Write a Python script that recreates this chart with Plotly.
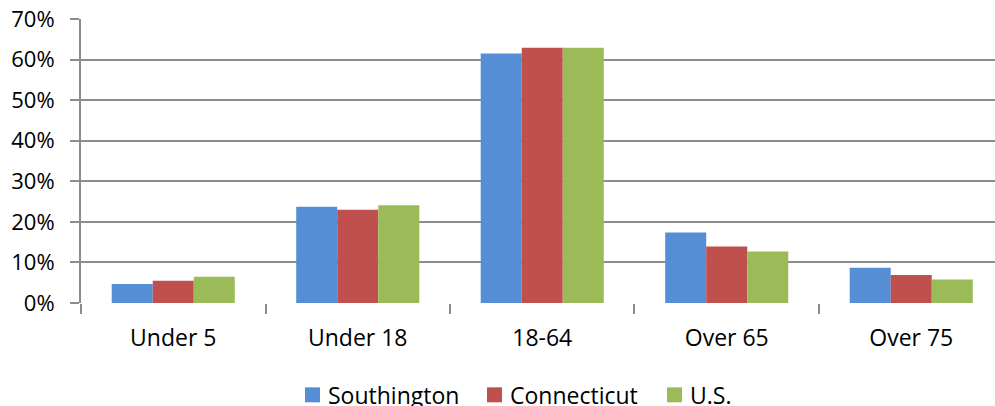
import plotly.graph_objects as go

categories = ["Under 5", "Under 18", "18-64", "Over 65", "Over 75"]
southington = [0.047, 0.237, 0.615, 0.174, 0.087]
connecticut = [0.055, 0.230, 0.629, 0.139, 0.069]
us = [0.065, 0.241, 0.629, 0.127, 0.058]

series = [
    ("Southington", southington, "#558ED5"),
    ("Connecticut", connecticut, "#C0504D"),
    ("U.S.", us, "#9BBB59"),
]

FONT = "Open Sans, Liberation Sans, sans-serif"
GRID = "#8C8C8C"

W, H = 995, 406
ML, MR, MT, MB = 81, 0, 19, 102.5
PW, PH = W - ML - MR, H - MT - MB

fig = go.Figure()
for name, vals, color in series:
    fig.add_trace(go.Bar(
        x=categories, y=vals, name=name, showlegend=False,
        marker=dict(color=color, line=dict(width=0)),
    ))

# Legend drawn below the plot: a swatch and a label per series,
# laid out left to right in pixel terms, converted to paper coordinates.
def px_x(p):
    return (p - ML) / PW

def px_y(p):
    return (H - MB - p) / PH

legend_left = [305, 487, 667]
swatch = 15
swatch_top = 388
for (name, _, color), left in zip(series, legend_left):
    fig.add_shape(
        type="rect", xref="paper", yref="paper",
        x0=px_x(left), x1=px_x(left + swatch),
        y0=px_y(swatch_top + swatch), y1=px_y(swatch_top),
        fillcolor=color, line=dict(width=0), layer="above",
    )
    fig.add_annotation(
        xref="paper", yref="paper", x=px_x(left + swatch + 6), y=px_y(396),
        xanchor="left", yanchor="middle", text=name, showarrow=False,
        font=dict(family=FONT, size=23, color="#000000"),
    )

fig.update_layout(
    width=W, height=H,
    margin=dict(l=ML, r=MR, t=MT, b=MB),
    paper_bgcolor="white", plot_bgcolor="white",
    barmode="group", bargap=0.333, bargroupgap=0,
    font=dict(family=FONT, size=22, color="#000000"),
    showlegend=False,
    xaxis=dict(
        type="category", range=[-0.5, 4.454],
        showline=False, showgrid=False, zeroline=False,
        ticks="outside", tickson="boundaries", ticklen=10, tickwidth=2, tickcolor=GRID,
        tickfont=dict(family=FONT, size=23, color="#000000"),
        ticklabelstandoff=19,
    ),
    yaxis=dict(
        range=[0, 0.7], dtick=0.1, tickformat=".0%",
        showgrid=True, gridcolor=GRID, gridwidth=1.5,
        showline=True, linecolor=GRID, linewidth=2,
        zeroline=False,
        ticks="outside", ticklen=9, tickwidth=2, tickcolor=GRID,
        tickfont=dict(family=FONT, size=22, color="#000000"),
        ticklabelstandoff=11,
    ),
)

fig.write_html("out.html")
